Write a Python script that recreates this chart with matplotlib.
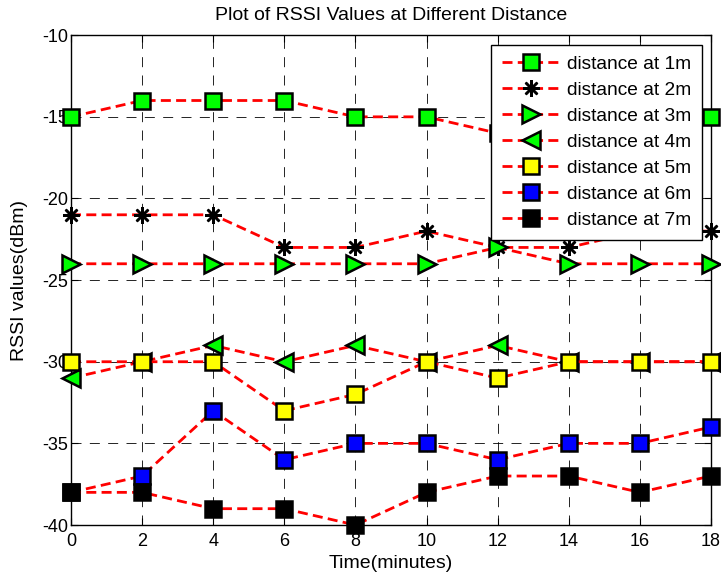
import matplotlib.pyplot as plt

plt.rcParams['font.family'] = ['Liberation Sans', 'DejaVu Sans']
plt.rcParams['axes.unicode_minus'] = False

time_min = [0, 2, 4, 6, 8, 10, 12, 14, 16, 18]
rssi_1m = [-15, -14, -14, -14, -15, -15, -16, -16, -15, -15]
rssi_2m = [-21, -21, -21, -23, -23, -22, -23, -23, -22, -22]
rssi_3m = [-24, -24, -24, -24, -24, -24, -23, -24, -24, -24]
rssi_4m = [-31, -30, -29, -30, -29, -30, -29, -30, -30, -30]
rssi_5m = [-30, -30, -30, -33, -32, -30, -31, -30, -30, -30]
rssi_6m = [-38, -37, -33, -36, -35, -35, -36, -35, -35, -34]
rssi_7m = [-38, -38, -39, -39, -40, -38, -37, -37, -38, -37]

labels = ['distance at 1m', 'distance at 2m', 'distance at 3m', 'distance at 4m',
          'distance at 5m', 'distance at 6m', 'distance at 7m']
# (8, 2, 0) = eight-armed asterisk like MATLAB's '*'
markers = ['s', (8, 2, 0), '>', '<', 's', 's', 's']
faces = ['#00ff00', 'black', '#00ff00', '#00ff00', '#ffff00', '#0000ff', 'black']
sizes = [11, 12, 13, 13, 11, 11, 11]
series = [rssi_1m, rssi_2m, rssi_3m, rssi_4m, rssi_5m, rssi_6m, rssi_7m]

fig = plt.figure(figsize=(7.21, 5.77), dpi=100)
ax = fig.add_axes([0.0985, 0.0901, 0.8875, 0.8489])

for vals, lab, m, fc, ms in zip(series, labels, markers, faces, sizes):
    ax.plot(time_min, vals, color='red', linestyle='--', dashes=(3.6, 1.9), linewidth=2,
            marker=m, markersize=ms, markerfacecolor=fc, markeredgecolor='black',
            markeredgewidth=1.8, label=lab, clip_on=False, zorder=3)

ax.set_xlim(0, 18)
ax.set_ylim(-40, -10)
ax.set_xticks(time_min)
ax.set_yticks([-40, -35, -30, -25, -20, -15, -10])
ax.tick_params(direction='in', top=True, right=True, labelsize=13, length=5)
ax.tick_params(axis='y', pad=2)
ax.tick_params(axis='x', pad=6)
ax.grid(True, color='black', linestyle=(0, (12, 10)), linewidth=0.6)
for s in ax.spines.values():
    s.set_linewidth(1.0)

ax.set_title('Plot of RSSI Values at Different Distance', fontsize=14, pad=11)
ax.set_xlabel('Time(minutes)', fontsize=14, labelpad=3)
ax.set_ylabel('RSSI values(dBm)', fontsize=14, labelpad=10)

leg = ax.legend(loc='upper right', bbox_to_anchor=(0.986, 0.98), fontsize=13.8,
                fancybox=False, framealpha=1, edgecolor='black', handlelength=3,
                handletextpad=0.4, borderaxespad=0, borderpad=0.55, labelspacing=0.45)
leg.get_frame().set_linewidth(1.0)
leg.set_zorder(5)

fig.savefig('out.png', dpi=100)
